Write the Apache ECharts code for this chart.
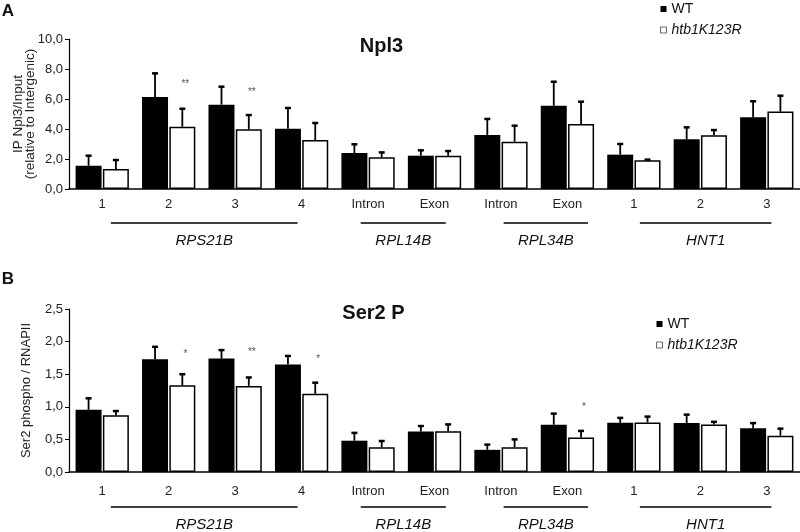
<!DOCTYPE html>
<html><head><meta charset="utf-8">
<script src="https://cdn.jsdelivr.net/npm/echarts@6/dist/echarts.min.js"></script>
<style>html,body{margin:0;padding:0;background:#fff}#c{width:800px;height:532px}</style>
</head><body><div id="c"></div>
<script>
// ---------- data ----------
const categories = ['1','2','3','4','Intron','Exon','Intron','Exon','1','2','3'];
const genes = ['RPS21B','RPL14B','RPL34B','HNT1'];

const npl3WT     = [1.55,6.13,5.62,4.02,2.40,2.22,3.60,5.55,2.29,3.31,4.78];
const npl3WTErr  = [0.67,1.58,1.20,1.38,0.58,0.36,1.07,1.60,0.71,0.80,1.07];
const npl3Mut    = [1.33,4.15,3.98,3.27,2.11,2.22,3.15,4.33,1.91,3.58,5.16];
const npl3MutErr = [0.60,1.20,0.95,1.13,0.33,0.31,1.07,1.49,0.05,0.35,1.06];
const npl3Stars  = ['','**','**','','','','','','','',''];
const npl3StarLevel = [null,7.2,6.67,null,null,null,null,null,null,null,null];

const ser2WT     = [0.955,1.73,1.74,1.65,0.48,0.62,0.34,0.725,0.755,0.75,0.67];
const ser2WTErr  = [0.175,0.19,0.13,0.13,0.12,0.085,0.08,0.17,0.075,0.13,0.08];
const ser2Mut    = [0.87,1.33,1.32,1.20,0.38,0.625,0.38,0.53,0.76,0.73,0.557];
const ser2MutErr = [0.065,0.17,0.13,0.17,0.095,0.105,0.12,0.10,0.09,0.04,0.108];
const ser2Stars  = ['','*','**','*','','','','*','','',''];
const ser2StarLevel = [null,1.845,1.887,1.77,null,null,null,1.04,null,null,null];

const topTicks = {min:0, max:10, interval:2};
const botTicks = {min:0, max:2.5, interval:0.5};

// ---------- layout / style ----------
const FONT = "'Liberation Sans', Arial, sans-serif";
const geneSpan = [[0.13,2.94],[3.89,5.17],[6.04,7.31],[8.09,10.07]]; // in category units
const lineDy = [34, 35], labelDy = [52, 53], catMargin = [9, 13];
const BAR_W = 26, BAR_GAP = 0.05;
const OFF = BAR_W*(1+BAR_GAP)/2;

function fmt(v){ return v.toFixed(1).replace('.', ','); }

function errRender(offset){
  return function(params, api){
    const i = api.value(0), v = api.value(1), e = api.value(2);
    const p0 = api.coord([i, v]), p1 = api.coord([i, v+e]);
    const x = p0[0] + offset;
    return {type:'group', children:[
      {type:'line', shape:{x1:x,y1:p0[1],x2:x,y2:p1[1]}, style:{stroke:'#000', lineWidth:1.8}},
      {type:'line', shape:{x1:x-3,y1:p1[1],x2:x+3,y2:p1[1]}, style:{stroke:'#000', lineWidth:2.5}}
    ]};
  };
}
function starRender(stars){
  return function(params, api){
    const i = api.value(0), lv = api.value(1);
    const p = api.coord([i, lv]);
    return {type:'text', x:p[0]+OFF+3, y:p[1]+3, style:{text:stars[i], fill:'#555', font:'10px '+FONT, align:'center', verticalAlign:'middle', textAlign:'center', textVerticalAlign:'middle'}};
  };
}
function triple(v, e){ return categories.map((c,i)=>[i, v[i], e[i]]); }
function starData(lv){ return lv.map((l,i)=> l==null ? null : [i, l]).filter(d=>d); }

function xAx(g){
  return {type:'category', gridIndex:g, data:categories,
    axisLine:{lineStyle:{color:'#000', width:1.5}}, axisTick:{show:false},
    axisLabel:{interval:0, fontSize:13, color:'#222', fontFamily:FONT, margin:catMargin[g]}};
}
function yAx(g, t, name, nameGap, nameSize, lh){
  return {type:'value', gridIndex:g, min:t.min, max:t.max, interval:t.interval,
    splitLine:{show:false},
    axisLine:{show:true, lineStyle:{color:'#000', width:1.2}},
    axisTick:{show:true, length:4, lineStyle:{color:'#000'}},
    axisLabel:{formatter:fmt, fontSize:13, color:'#222', fontFamily:FONT, margin:6},
    name:name, nameLocation:'middle', nameGap:nameGap, nameMoveOverlap:false,
    nameTextStyle:{fontSize:nameSize, lineHeight:lh, color:'#222', fontFamily:FONT}};
}
function bars(g, name, vals, color){
  return {type:'bar', name:name, xAxisIndex:g, yAxisIndex:g, data:vals, barWidth:BAR_W, barGap:(BAR_GAP*100)+'%',
    itemStyle: color==='#000' ? {color:'#000'} : {color:'#fff', borderColor:'#000', borderWidth:1.5}};
}
function legend(left, top){
  return {left:left, top:top, orient:'vertical', itemWidth:6, itemHeight:6, itemGap:7,
    textStyle:{fontSize:14, color:'#111', fontFamily:FONT},
    data:[{name:'WT', icon:'rect', itemStyle:{color:'#000'}},
          {name:'htb1K123R', icon:'rect', itemStyle:{color:'#fff', borderColor:'#666', borderWidth:1}, textStyle:{fontStyle:'italic', fontSize:14}}]};
}

const option = {
  animation:false,
  backgroundColor:'#fff',
  textStyle:{fontFamily:FONT},
  grid:[{left:69, top:39, width:731, height:150, containLabel:false, outerBoundsMode:'none'},
        {left:69, top:309, width:731, height:163, containLabel:false, outerBoundsMode:'none'}],
  xAxis:[xAx(0), xAx(1)],
  yAxis:[yAx(0, topTicks, 'IP Npl3/Input\n(relative to Intergenic)', 32, 13.5, 12.5),
         yAx(1, botTicks, 'Ser2 phospho / RNAPII', 35, 13, 15)],
  legend:[legend(655, -3), legend(651, 312)],
  series:[
    bars(0,'WT',npl3WT,'#000'), bars(0,'htb1K123R',npl3Mut,'#fff'),
    bars(1,'WT',ser2WT,'#000'), bars(1,'htb1K123R',ser2Mut,'#fff'),
    {type:'custom', xAxisIndex:0, yAxisIndex:0, renderItem:errRender(-OFF), data:triple(npl3WT,npl3WTErr), encode:{x:0,y:1}, z:5},
    {type:'custom', xAxisIndex:0, yAxisIndex:0, renderItem:errRender(OFF), data:triple(npl3Mut,npl3MutErr), encode:{x:0,y:1}, z:5},
    {type:'custom', xAxisIndex:1, yAxisIndex:1, renderItem:errRender(-OFF), data:triple(ser2WT,ser2WTErr), encode:{x:0,y:1}, z:5},
    {type:'custom', xAxisIndex:1, yAxisIndex:1, renderItem:errRender(OFF), data:triple(ser2Mut,ser2MutErr), encode:{x:0,y:1}, z:5},
    {type:'custom', xAxisIndex:0, yAxisIndex:0, renderItem:starRender(npl3Stars), data:starData(npl3StarLevel), encode:{x:0,y:1}, z:6},
    {type:'custom', xAxisIndex:1, yAxisIndex:1, renderItem:starRender(ser2Stars), data:starData(ser2StarLevel), encode:{x:0,y:1}, z:6}
  ]
};

const chart = echarts.init(document.getElementById('c'), null, {renderer:'canvas'});
chart.setOption(option);

function txt(x, y, text, font, extra){
  return Object.assign({type:'text', x:x, y:y, style:{text:text, fill:'#111', font:font, align:'center', verticalAlign:'middle', textAlign:'center', textVerticalAlign:'middle'}}, extra||{});
}
const els = [];
els.push(txt(8, 11, 'A', 'bold 17px '+FONT));
els.push(txt(8, 279, 'B', 'bold 17px '+FONT));
els.push(txt(381.5, 46, 'Npl3', 'bold 20px '+FONT));
els.push(txt(373.5, 313, 'Ser2 P', 'bold 20px '+FONT));
[0,1].forEach(g=>{
  const y0 = chart.convertToPixel({yAxisIndex:g}, 0);
  const c0 = chart.convertToPixel({xAxisIndex:g}, 0);
  const c1 = chart.convertToPixel({xAxisIndex:g}, 1);
  const band = c1 - c0;
  genes.forEach((name,k)=>{
    const xa = c0 + geneSpan[k][0]*band, xb = c0 + geneSpan[k][1]*band;
    els.push({type:'line', shape:{x1:xa, y1:y0+lineDy[g], x2:xb, y2:y0+lineDy[g]}, style:{stroke:'#000', lineWidth:1.5}});
    els.push(txt((xa+xb)/2, y0+labelDy[g], name, 'italic 15px '+FONT));
  });
});
chart.setOption({graphic:els});
</script>
</body></html>
